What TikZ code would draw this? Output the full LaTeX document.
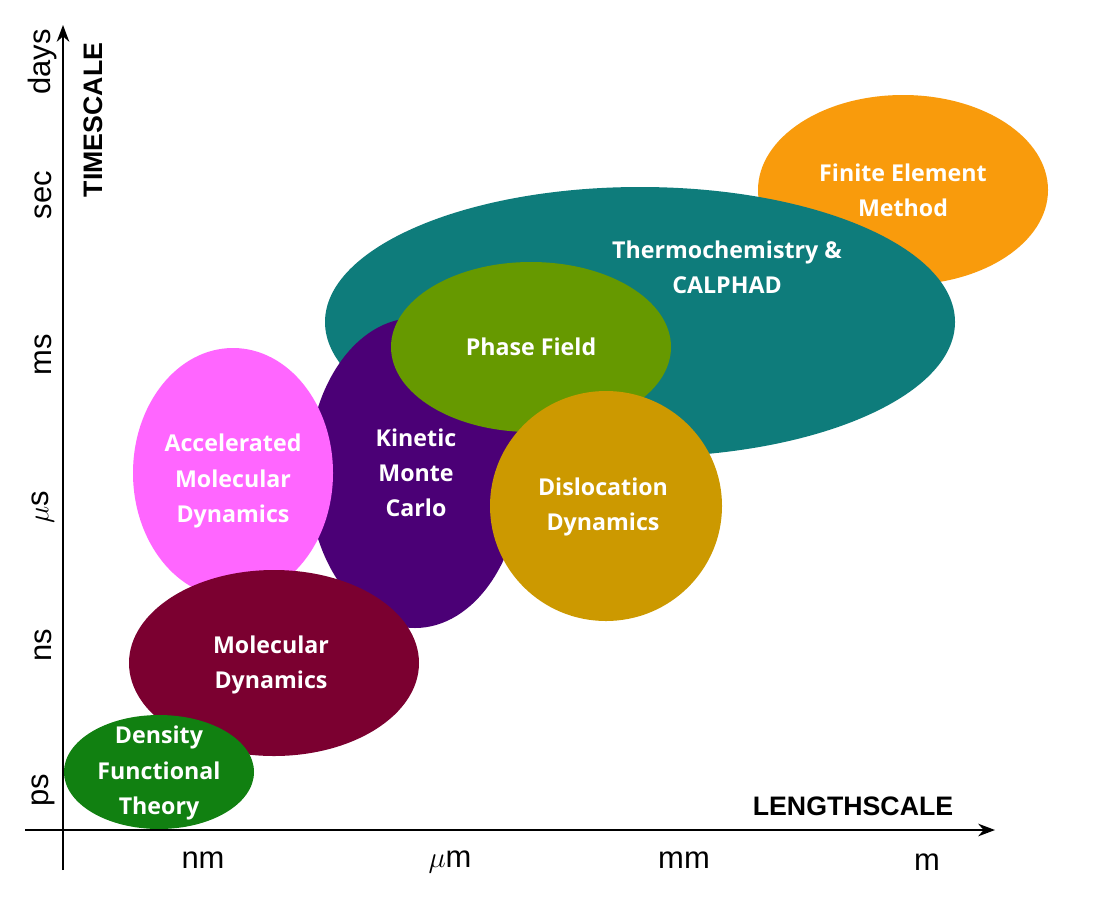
\documentclass[tikz,border=0pt]{standalone}
\usepackage{fontspec}
\setmainfont{Liberation Sans}
\newfontfamily\blobfont{Open Sans}
\usetikzlibrary{arrows.meta}
\definecolor{femorange}{HTML}{F99B0C}
\definecolor{calteal}{HTML}{0E7C7B}
\definecolor{pfgreen}{HTML}{669900}
\definecolor{kmcpurple}{HTML}{4B0076}
\definecolor{amdpink}{HTML}{FF66FF}
\definecolor{ddgold}{HTML}{CC9900}
\definecolor{mdmaroon}{HTML}{7B0030}
\definecolor{dftgreen}{HTML}{118011}
\tikzstyle{lbl}=[text=white,font=\blobfont\bfseries\fontsize{16.5}{25}\selectfont,align=center]
\tikzstyle{tick}=[font=\fontsize{22}{24}\selectfont]
\tikzstyle{axis}=[font=\bfseries\fontsize{19}{22}\selectfont]

\begin{document}
\begin{tikzpicture}[x=0.025cm,y=-0.025cm]
	\useasboundingbox (0,0) rectangle (1108,907);
	\fill[white] (0,0) rectangle (1108,907);
	
	% blobs, back to front
	\fill[femorange] (903,190) ellipse (145 and 95);
	\fill[calteal] (640,322) ellipse (315 and 135);
	\fill[kmcpurple] (415,473) ellipse (107 and 155);
	\fill[pfgreen] (531,347) ellipse (140 and 85);
	\fill[amdpink] (233,473) ellipse (100 and 125);
	\fill[ddgold] (606,506) ellipse (116 and 115);
	\fill[mdmaroon] (274,663) ellipse (145 and 93);
	\fill[dftgreen] (159,772) ellipse (95 and 57);
	
	\node[lbl] (fem) at (903,190) {Finite Element\\Method};
	\node[lbl] (cal) at (727,267) {Thermochemistry \&\\CALPHAD};
	\node[lbl] (pf) at (531,347) {Phase Field};
	\node[lbl] (kmc) at (416,473) {Kinetic\\Monte\\Carlo};
	\node[lbl] (amd) at (233,481) {Accelerated\\Molecular\\Dynamics};
	\node[lbl] (dd) at (603,507) {Dislocation\\Dynamics};
	\node[lbl] (md) at (271,665) {Molecular\\Dynamics};
	\node[lbl] (dft) at (159,773) {Density\\Functional\\Theory};
	
	% axes
	\coordinate (ytop) at (63,25);
	\coordinate (ybot) at (63,870);
	\coordinate (xleft) at (25,830);
	\coordinate (xright) at (995,830);
	\draw[line width=1.2pt,-{Stealth[length=12pt]}] (ybot) -- (ytop);
	\draw[line width=1.2pt,-{Stealth[length=12pt]}] (xleft) -- (xright);
	\node[axis,rotate=90] (ty) at (93,120) {TIMESCALE};
	\node[axis] (tx) at (853,806) {LENGTHSCALE};
	
	\node[tick] (nm) at (203,860) {nm};
	\node[tick] (um) at (450,862) {$\mu$m};
	\node[tick] (mm) at (684,860) {mm};
	\node[tick] (m) at (927,862) {m};
	\node[tick,rotate=90] (ps) at (43,790) {ps};
	\node[tick,rotate=90] (ns) at (43,645) {ns};
	\node[tick,rotate=90] (us) at (43,507) {$\mu$s};
	\node[tick,rotate=90] (ms) at (43,355) {ms};
	\node[tick,rotate=90] (sec) at (43,195) {sec};
	\node[tick,rotate=90] (days) at (43,62) {days};
\end{tikzpicture}
\end{document}
